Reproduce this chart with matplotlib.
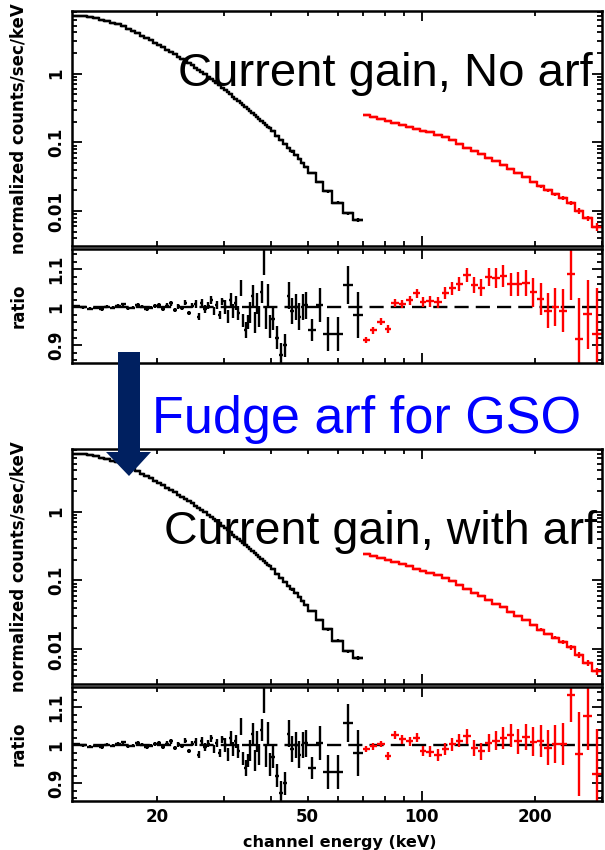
import matplotlib
matplotlib.use("Agg")
import matplotlib.pyplot as plt
import numpy as np
from matplotlib.ticker import LogLocator, FuncFormatter, MultipleLocator, NullFormatter
from matplotlib.patches import Polygon

# ---- PIN (black) channels, keV ----
pin_edges = [12.0, 12.5, 13.0, 13.5, 14.0, 14.5, 15.0, 15.5, 16.0, 16.5,
             17.0, 17.5, 18.0, 18.5, 19.0, 19.5, 20.0, 20.5, 21.0, 21.5,
             22.0, 22.5, 23.0, 23.5, 24.0, 24.5, 25.0, 25.5, 26.0, 26.5,
             27.0, 27.5, 28.0, 28.5, 29.0, 29.5, 30.0, 30.5, 31.0, 31.5,
             32.0, 32.5, 33.0, 33.5, 34.0, 34.5, 35.0, 35.5, 36.0, 36.5,
             37.0, 37.5, 38.0, 38.5, 39.0, 39.5, 40.0, 41.0, 42.0, 43.0,
             44.0, 45.0, 46.0, 47.0, 48.0, 49.0, 50.0, 52.5, 55.0, 58.0,
             62.0, 66.0, 70.0]

pin_counts = [6.89, 7.00, 6.79, 6.49, 6.15, 5.83, 5.53, 5.22, 4.89, 4.53,
              4.20, 3.88, 3.58, 3.30, 3.05, 2.82, 2.61, 2.42, 2.24, 2.07,
              1.92, 1.78, 1.66, 1.53, 1.43, 1.32, 1.23, 1.14, 1.057, 0.980,
              0.910, 0.844, 0.783, 0.726, 0.675, 0.625, 0.581, 0.538, 0.500, 0.463,
              0.432, 0.403, 0.376, 0.351, 0.327, 0.306, 0.287, 0.269, 0.251, 0.235,
              0.220, 0.206, 0.193, 0.182, 0.170, 0.160, 0.145, 0.126, 0.110, 0.096,
              0.084, 0.0738, 0.0649, 0.0571, 0.0504, 0.0444, 0.0359, 0.0266, 0.0195, 0.0132,
              0.0093, 0.0074]

pin_ratio = [1.002, 1.000, 0.996, 0.998, 0.995, 1.001, 0.999, 1.003, 1.008, 0.997,
             0.998, 1.006, 1.001, 0.995, 0.998, 1.003, 1.006, 0.996, 1.004, 1.010,
             0.992, 1.002, 0.998, 1.012, 0.985, 1.004, 1.008, 0.975, 1.012, 0.995,
             1.004, 1.018, 0.990, 1.006, 0.980, 1.015, 1.000, 0.975, 1.020, 0.990,
             1.010, 0.985, 1.050, 0.965, 0.940, 0.960, 0.985, 1.030, 0.960, 1.010,
             0.975, 1.040, 1.120, 0.970, 1.030, 0.950, 0.970, 0.920, 0.875, 0.900,
             1.030, 0.990, 1.000, 0.975, 1.000, 1.005, 0.940, 1.005, 0.930, 0.930,
             1.058, 0.980]

pin_err = [0.004, 0.004, 0.004, 0.004, 0.004, 0.004, 0.004, 0.004, 0.004, 0.004,
           0.004, 0.004, 0.004, 0.004, 0.004, 0.004, 0.006, 0.006, 0.006, 0.006,
           0.006, 0.006, 0.006, 0.006, 0.006, 0.006, 0.010, 0.010, 0.010, 0.010,
           0.010, 0.010, 0.010, 0.010, 0.010, 0.010, 0.018, 0.018, 0.018, 0.018,
           0.018, 0.018, 0.022, 0.018, 0.020, 0.018, 0.028, 0.028, 0.028, 0.028,
           0.028, 0.028, 0.035, 0.028, 0.030, 0.030, 0.030, 0.030, 0.030, 0.030,
           0.035, 0.035, 0.035, 0.035, 0.035, 0.035, 0.030, 0.045, 0.045, 0.045,
           0.050, 0.060]

# ---- GSO (red) channels, keV ----
gso_edges = [70, 73, 76, 80, 83, 87, 91, 95, 99, 103, 108, 113, 118, 123, 129,
             135, 141, 147, 154, 161, 168, 176, 184, 193, 202, 211, 221, 231,
             242, 254, 268, 283, 300]

gso_counts_noarf = [0.248, 0.234, 0.219, 0.206, 0.193, 0.180, 0.169, 0.158, 0.149, 0.140,
                    0.130, 0.118, 0.107, 0.096, 0.084, 0.0746, 0.0676, 0.060, 0.0535, 0.0475,
                    0.0414, 0.0361, 0.0311, 0.0266, 0.0229, 0.0200, 0.0177, 0.0155, 0.0130, 0.0101,
                    0.0078, 0.0059]

gso_counts_arf = [0.240, 0.226, 0.211, 0.197, 0.184, 0.171, 0.160, 0.149, 0.139, 0.129,
                  0.119, 0.107, 0.097, 0.086, 0.075, 0.066, 0.059, 0.052, 0.046, 0.0405,
                  0.0352, 0.0306, 0.0263, 0.0224, 0.0192, 0.0166, 0.0146, 0.0127, 0.0106, 0.0082,
                  0.0063, 0.0048]

gso_ratio_noarf = [0.914, 0.939, 0.962, 0.943, 1.011, 1.009, 1.018, 1.037, 1.013, 1.015,
                   1.013, 1.037, 1.050, 1.061, 1.085, 1.059, 1.051, 1.079, 1.076, 1.082,
                   1.060, 1.061, 1.063, 1.039, 1.022, 0.991, 1.000, 0.991, 1.088, 0.915,
                   0.981, 0.930]

gso_ratio_arf = [0.989, 0.997, 1.003, 0.971, 1.026, 1.015, 1.010, 1.019, 0.984, 0.983,
                 0.974, 0.989, 1.002, 1.012, 1.023, 0.993, 0.984, 1.006, 1.012, 1.019,
                 1.026, 1.010, 1.021, 1.009, 1.010, 0.993, 1.003, 1.003, 1.132, 0.977,
                 1.076, 0.923]

gso_err = [0.008, 0.009, 0.009, 0.010, 0.010, 0.011, 0.012, 0.012, 0.013, 0.014,
           0.015, 0.016, 0.017, 0.018, 0.019, 0.021, 0.022, 0.024, 0.026, 0.028,
           0.030, 0.032, 0.035, 0.038, 0.042, 0.046, 0.050, 0.056, 0.070, 0.110,
           0.090, 0.120]

W, H = 605, 850
LW = 1.7
FONT = "DejaVu Sans"

fig = plt.figure(figsize=(W / 100, H / 100), dpi=100)


def px_axes(left, top, right, bottom):
    return fig.add_axes([left / W, 1 - bottom / H, (right - left) / W, (bottom - top) / H])


def px(x, y):
    return (x / W, 1 - y / H)


def energy_label(v, pos):
    for e in (20, 50, 100, 200):
        if abs(v - e) < 1e-6 * e:
            return str(e)
    return ""


def style_axes(ax, show_xlabels=False):
    ax.set_xscale("log")
    ax.set_xlim(11.9, 300)
    ax.xaxis.set_major_locator(LogLocator(base=10))
    ax.xaxis.set_minor_locator(LogLocator(base=10, subs=np.arange(2, 10)))
    if show_xlabels:
        ax.xaxis.set_major_formatter(FuncFormatter(energy_label))
        ax.xaxis.set_minor_formatter(FuncFormatter(energy_label))
    else:
        ax.xaxis.set_major_formatter(NullFormatter())
        ax.xaxis.set_minor_formatter(NullFormatter())
    ax.tick_params(which="both", direction="in", top=True, right=True, width=1.3,
                   labelsize=12, pad=5)
    ax.tick_params(which="major", length=7)
    ax.tick_params(which="minor", length=3.5)
    for s in ax.spines.values():
        s.set_linewidth(1.8)
    for lab in ax.get_xticklabels(which="both") + ax.get_yticklabels():
        lab.set_fontweight("bold")
        lab.set_family(FONT)


def draw_spectrum(ax, gso_counts, gso_rel_err):
    pe = np.array(pin_edges)
    pc = np.array(pin_counts)
    ge = np.array(gso_edges)
    gc = np.array(gso_counts)
    pin_mid = np.sqrt(pe[:-1] * pe[1:])
    gso_mid = np.sqrt(ge[:-1] * ge[1:])
    ax.stairs(pc, pe, baseline=None, color="black", lw=LW)
    ax.errorbar(pin_mid, pc, xerr=[pin_mid - pe[:-1], pe[1:] - pin_mid],
                yerr=pc * np.array(pin_err), fmt="none", ecolor="black", elinewidth=LW)
    ax.stairs(gc, ge, baseline=None, color="red", lw=LW)
    ax.errorbar(gso_mid, gc, xerr=[gso_mid - ge[:-1], ge[1:] - gso_mid],
                yerr=gc * np.array(gso_rel_err), fmt="none", ecolor="red", elinewidth=LW)
    ax.set_yscale("log")
    ax.set_ylim(0.0031, 8.2)
    ax.yaxis.set_major_locator(LogLocator(base=10))
    ax.yaxis.set_minor_locator(LogLocator(base=10, subs=np.arange(2, 10)))
    ax.yaxis.set_major_formatter(FuncFormatter(lambda v, p: f"{v:g}"))
    ax.yaxis.set_minor_formatter(NullFormatter())


def draw_ratio(ax, gso_ratio):
    pe = np.array(pin_edges)
    ge = np.array(gso_edges)
    pin_mid = np.sqrt(pe[:-1] * pe[1:])
    gso_mid = np.sqrt(ge[:-1] * ge[1:])
    ax.axhline(1.0, color="black", lw=LW, ls=(0, (6, 3)))
    ax.errorbar(pin_mid, pin_ratio, xerr=[pin_mid - pe[:-1], pe[1:] - pin_mid],
                yerr=pin_err, fmt="none", ecolor="black", elinewidth=LW)
    ax.errorbar(gso_mid, gso_ratio, xerr=[gso_mid - ge[:-1], ge[1:] - gso_mid],
                yerr=gso_err, fmt="none", ecolor="red", elinewidth=LW)
    ax.set_ylim(0.853, 1.153)
    ax.yaxis.set_major_locator(MultipleLocator(0.1))
    ax.yaxis.set_minor_locator(MultipleLocator(0.02))
    ax.yaxis.set_major_formatter(FuncFormatter(lambda v, p: f"{v:g}"))


panels = [
    (11, 246, 249, 363, gso_counts_noarf, gso_ratio_noarf, False),
    (449, 684, 687, 801, gso_counts_arf, gso_ratio_arf, True),
]
for s_top, s_bot, r_top, r_bot, gcounts, gratio, last in panels:
    ax_s = px_axes(72, s_top, 602, s_bot)
    draw_spectrum(ax_s, gcounts, gso_err)
    style_axes(ax_s)
    ax_r = px_axes(72, r_top, 602, r_bot)
    draw_ratio(ax_r, gratio)
    style_axes(ax_r, show_xlabels=last)
    for lab in ax_s.get_yticklabels() + ax_r.get_yticklabels():
        lab.set_rotation(90)
        lab.set_verticalalignment("center")
    fig.text(*px(19, (s_top + s_bot) / 2), "normalized counts/sec/keV", rotation=90,
             ha="center", va="center", fontsize=12, fontweight="bold", family=FONT)
    fig.text(*px(19, (r_top + r_bot) / 2), "ratio", rotation=90,
             ha="center", va="center", fontsize=12, fontweight="bold", family=FONT)

fig.text(*px(340, 842), "channel energy (keV)", ha="center", va="center",
         fontsize=11.5, fontweight="bold", family=FONT)

# annotations
fig.text(*px(178, 86), "Current gain, No arf", fontsize=34, family="Liberation Sans",
         color="black", va="baseline", zorder=10)
fig.text(*px(164, 544), "Current gain, with arf", fontsize=33.6, family="Liberation Sans",
         color="black", va="baseline", zorder=10)
fig.text(*px(152, 433), "Fudge arf for GSO", fontsize=37.5, family="Liberation Sans",
         color="#0000ff", va="baseline", zorder=10)

arrow_pts = [(118, 352), (140, 352), (140, 452), (151, 452), (129, 476), (106, 452), (118, 452)]
fig.add_artist(Polygon([px(x, y) for x, y in arrow_pts], closed=True,
                       transform=fig.transFigure, facecolor="#002060",
                       edgecolor="none", zorder=11))

fig.savefig("out.png", dpi=100)
